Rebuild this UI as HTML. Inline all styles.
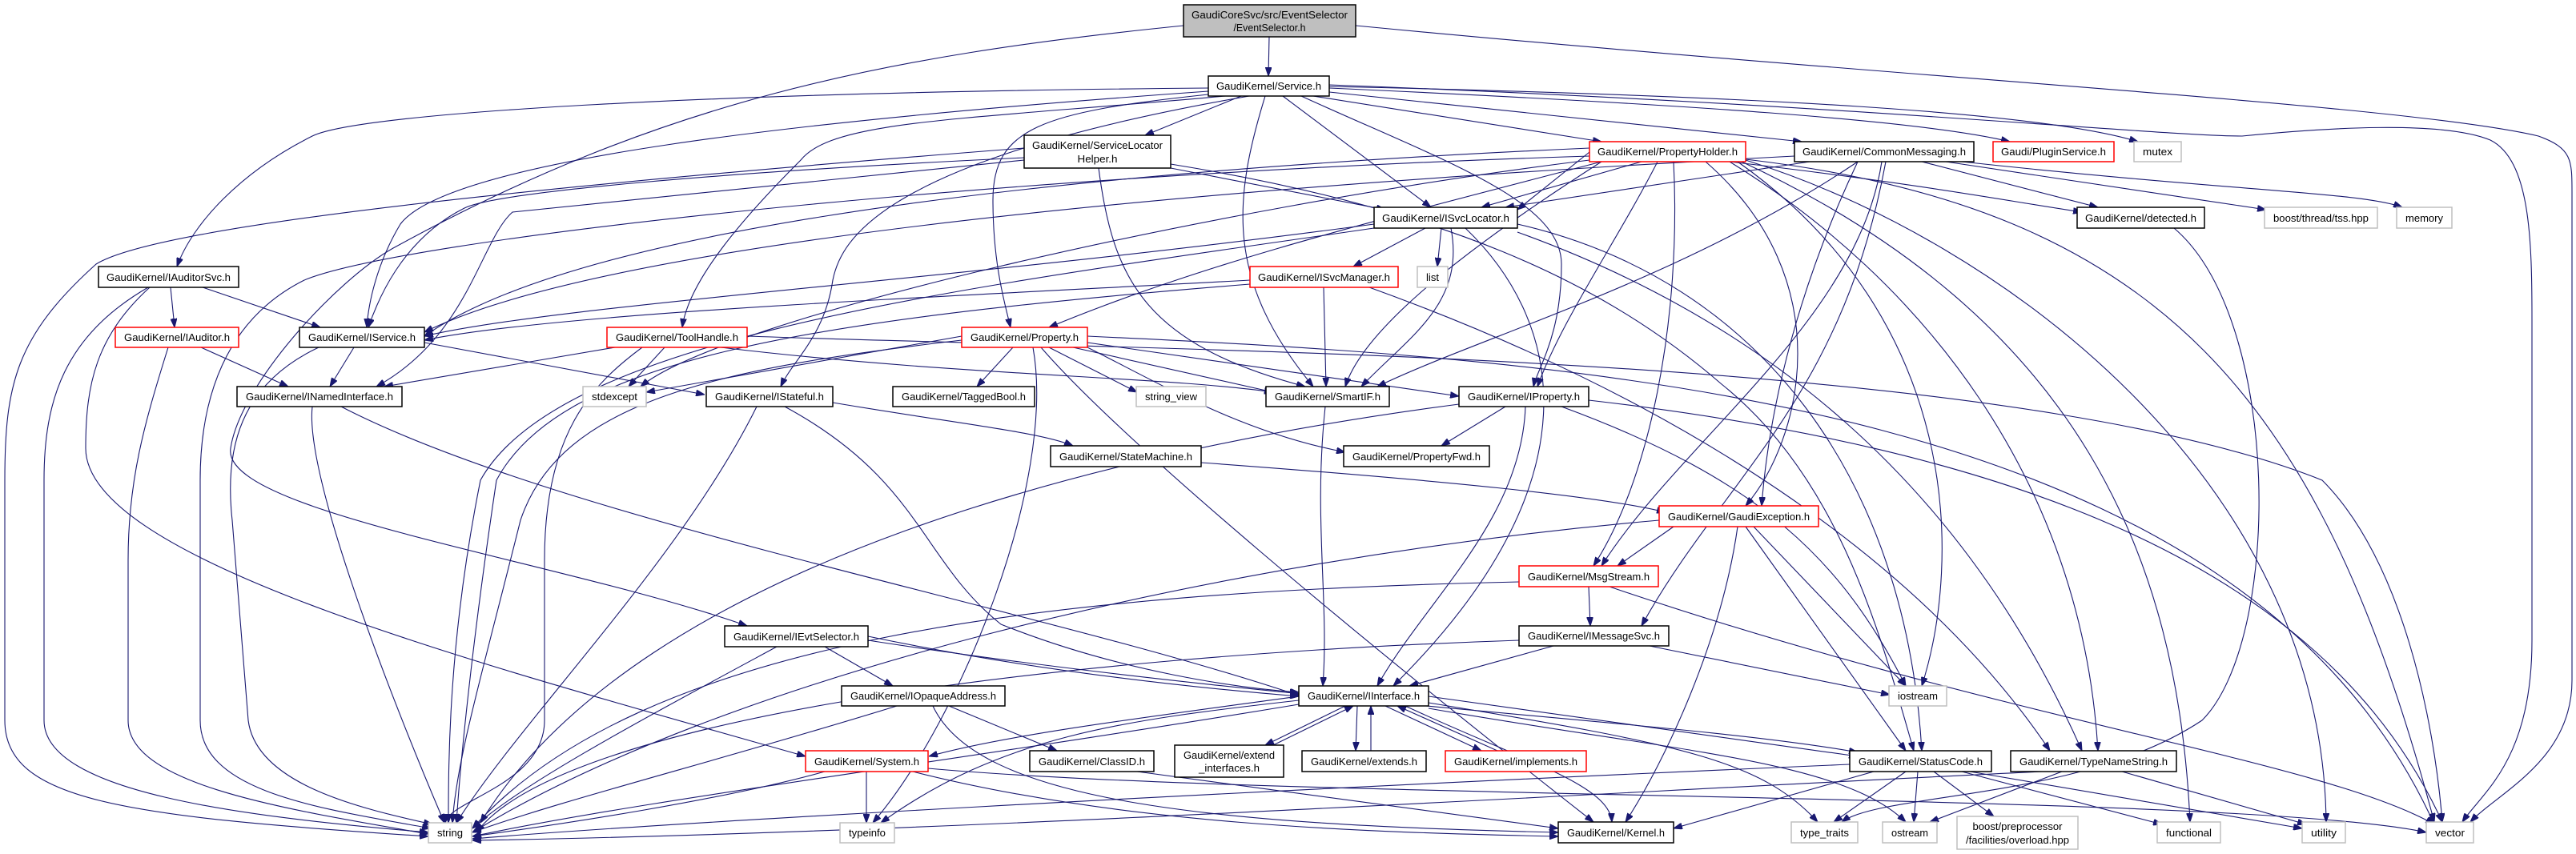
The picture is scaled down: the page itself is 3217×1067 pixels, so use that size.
<!DOCTYPE html>
<html><head><meta charset="utf-8"><style>
html,body{margin:0;padding:0;background:#fff;}
svg{display:block;}
text{font-family:"Liberation Sans",sans-serif;font-size:13px;fill:#000;}
.n{fill:#fff;stroke:#000;stroke-width:1.5;}
.r{fill:#fff;stroke:#ff0000;stroke-width:1.5;}
.g{fill:#fff;stroke:#bfbfbf;stroke-width:1.5;}
.e path{fill:none;stroke:#191970;stroke-width:1.1;}
</style></head><body>
<svg width="3217" height="1067" viewBox="0 0 3217 1067" xmlns="http://www.w3.org/2000/svg">
<defs><marker id="a" markerWidth="11" markerHeight="8" refX="11" refY="4" orient="auto" markerUnits="userSpaceOnUse"><path d="M0,0 L11,4 L0,8 z" fill="#191970" stroke="#191970"/></marker></defs>
<g class="e" marker-end="url(#a)">
<path d="M1585,46 L1584,95" marker-end="url(#a)"/>
<path d="M1478,32 C1100,70 824,127 491,310 C420,350 300,480 288,560 C275,640 700,700 933,782" marker-end="url(#a)"/>
<path d="M1693,32 C2400,100 3000,130 3170,170 C3212,185 3212,200 3212,240 L3212,850 C3212,950 3120,990 3085,1027" marker-end="url(#a)"/>
<path d="M1509,110 C900,115 450,140 390,170 C300,215 240,280 221,333" marker-end="url(#a)"/>
<path d="M1509,114 C1000,150 560,200 500,280 C470,330 460,380 458,409" marker-end="url(#a)"/>
<path d="M1530,120 C1200,150 1040,150 1000,200 C930,270 860,350 852,409" marker-end="url(#a)"/>
<path d="M1560,120 C1100,200 1050,300 1040,350 C1030,420 990,450 975,483" marker-end="url(#a)"/>
<path d="M1550,120 L1430,169" marker-end="url(#a)"/>
<path d="M1509,118 C1300,140 1240,160 1240,250 C1240,330 1255,380 1262,409" marker-end="url(#a)"/>
<path d="M1580,120 C1540,250 1530,350 1640,483" marker-end="url(#a)"/>
<path d="M1602,120 L1787,259" marker-end="url(#a)"/>
<path d="M1625,120 C1800,200 1950,250 1950,330 C1950,420 1920,460 1915,483" marker-end="url(#a)"/>
<path d="M1640,120 L2000,177" marker-end="url(#a)"/>
<path d="M1660,115 L2250,177" marker-end="url(#a)"/>
<path d="M1660,110 C2100,130 2400,150 2510,177" marker-end="url(#a)"/>
<path d="M1660,108 C2200,120 2550,140 2670,177" marker-end="url(#a)"/>
<path d="M1660,106 C2300,130 2700,170 2800,170 C2900,160 3050,150 3110,175 C3160,200 3162,300 3162,400 L3162,800 C3162,950 3100,990 3075,1027" marker-end="url(#a)"/>
<path d="M213,359 L218,409" marker-end="url(#a)"/>
<path d="M253,359 L400,409" marker-end="url(#a)"/>
<path d="M185,359 C80,420 55,500 55,600 L55,900 C55,990 300,1020 535,1040" marker-end="url(#a)"/>
<path d="M187,359 C120,420 107,480 107,560 C107,700 600,830 1006,945" marker-end="url(#a)"/>
<path d="M251,434 L360,483" marker-end="url(#a)"/>
<path d="M210,434 C180,530 160,600 160,700 L160,900 C160,980 350,1010 535,1042" marker-end="url(#a)"/>
<path d="M442,434 L412,483" marker-end="url(#a)"/>
<path d="M530,428 L880,493" marker-end="url(#a)"/>
<path d="M398,434 C300,480 280,560 290,650 L310,900 C320,980 450,1010 540,1030" marker-end="url(#a)"/>
<path d="M768,434 L480,483" marker-end="url(#a)"/>
<path d="M830,434 L785,483" marker-end="url(#a)"/>
<path d="M802,434 C740,480 680,540 680,700 L680,900 C680,980 560,1000 556,1028" marker-end="url(#a)"/>
<path d="M933,420 C1500,440 2500,440 2900,600 C3000,700 3040,900 3050,1027" marker-end="url(#a)"/>
<path d="M900,434 C1200,470 1450,470 1590,490" marker-end="url(#a)"/>
<path d="M426,508 C700,650 1300,760 1625,870" marker-end="url(#a)"/>
<path d="M390,508 C380,600 500,900 555,1028" marker-end="url(#a)"/>
<path d="M1040,503 C1200,530 1300,540 1340,557" marker-end="url(#a)"/>
<path d="M980,508 C1150,600 1150,700 1250,780 C1400,840 1550,860 1622,865" marker-end="url(#a)"/>
<path d="M945,508 C850,700 650,900 570,1028" marker-end="url(#a)"/>
<path d="M1462,210 L1730,262" marker-end="url(#a)"/>
<path d="M1372,210 C1390,350 1430,430 1630,483" marker-end="url(#a)"/>
<path d="M1279,197 C900,215 620,240 580,260 C500,300 470,380 460,409" marker-end="url(#a)"/>
<path d="M1279,200 C900,240 700,260 640,265 C600,300 585,420 470,483" marker-end="url(#a)"/>
<path d="M1462,205 C1800,260 2000,350 2150,480 C2300,600 2350,800 2390,938" marker-end="url(#a)"/>
<path d="M1279,185 C700,230 200,280 120,330 C20,420 6,480 6,600 L6,900 C6,1000 150,1020 535,1045" marker-end="url(#a)"/>
<path d="M2050,202 L1850,259" marker-end="url(#a)"/>
<path d="M1985,190 L1895,262" marker-end="url(#a)"/>
<path d="M2070,202 C2020,300 1950,400 1920,483" marker-end="url(#a)"/>
<path d="M2000,202 C1700,280 1500,330 1310,409" marker-end="url(#a)"/>
<path d="M2090,202 C2100,400 2060,600 1990,707" marker-end="url(#a)"/>
<path d="M2130,202 C2300,350 2250,550 2180,632" marker-end="url(#a)"/>
<path d="M2160,202 C2400,230 2500,250 2600,265" marker-end="url(#a)"/>
<path d="M2170,202 C2450,400 2450,700 2400,857" marker-end="url(#a)"/>
<path d="M2175,202 C2600,400 2720,700 2735,1027" marker-end="url(#a)"/>
<path d="M2180,200 C2500,300 2900,600 2905,1027" marker-end="url(#a)"/>
<path d="M2180,199 C2700,260 2900,500 3040,1027" marker-end="url(#a)"/>
<path d="M2160,202 C2400,350 2600,600 2620,938" marker-end="url(#a)"/>
<path d="M1985,195 C1200,220 500,300 380,350 C280,400 250,500 250,600 L250,900 C250,990 400,1010 538,1035" marker-end="url(#a)"/>
<path d="M1985,200 C1500,260 900,400 800,483" marker-end="url(#a)"/>
<path d="M1985,185 C1200,220 700,300 530,420" marker-end="url(#a)"/>
<path d="M2000,202 C1800,330 1700,420 1680,483" marker-end="url(#a)"/>
<path d="M2260,202 L1880,259" marker-end="url(#a)"/>
<path d="M2320,202 C2100,350 1850,420 1720,483" marker-end="url(#a)"/>
<path d="M2350,202 C2320,400 2100,550 2000,707" marker-end="url(#a)"/>
<path d="M2355,202 C2300,500 2150,600 2050,782" marker-end="url(#a)"/>
<path d="M2400,202 L2620,259" marker-end="url(#a)"/>
<path d="M2430,202 L2830,262" marker-end="url(#a)"/>
<path d="M2450,202 C2800,240 2950,240 3000,259" marker-end="url(#a)"/>
<path d="M2320,202 C2250,350 2210,500 2200,632" marker-end="url(#a)"/>
<path d="M2241,195 C1200,250 700,330 530,415" marker-end="url(#a)"/>
<path d="M1780,285 L1690,333" marker-end="url(#a)"/>
<path d="M1800,285 L1795,333" marker-end="url(#a)"/>
<path d="M1812,285 C1830,380 1760,420 1700,483" marker-end="url(#a)"/>
<path d="M1830,285 C1950,400 2000,600 1740,857" marker-end="url(#a)"/>
<path d="M1895,280 C2200,350 2380,600 2400,938" marker-end="url(#a)"/>
<path d="M1895,290 C2200,400 2450,600 2600,938" marker-end="url(#a)"/>
<path d="M1716,280 C1200,350 700,380 530,420" marker-end="url(#a)"/>
<path d="M1716,285 C1200,360 700,420 600,600 C560,800 560,950 560,1028" marker-end="url(#a)"/>
<path d="M1561,350 C1200,370 700,390 530,425" marker-end="url(#a)"/>
<path d="M1653,359 L1656,483" marker-end="url(#a)"/>
<path d="M1710,359 C2100,500 2400,700 2560,938" marker-end="url(#a)"/>
<path d="M1561,355 C1000,400 700,450 620,600 C590,800 575,950 570,1028" marker-end="url(#a)"/>
<path d="M1265,434 L1220,483" marker-end="url(#a)"/>
<path d="M1310,434 L1420,490" marker-end="url(#a)"/>
<path d="M1340,434 L1590,490" marker-end="url(#a)"/>
<path d="M1358,428 L1822,495" marker-end="url(#a)"/>
<path d="M1358,434 C1450,480 1550,540 1680,565" marker-end="url(#a)"/>
<path d="M1201,420 L807,490" marker-end="url(#a)"/>
<path d="M1201,425 C900,460 700,500 650,650 C600,850 570,950 565,1028" marker-end="url(#a)"/>
<path d="M1290,434 C1320,600 1200,900 1090,1028" marker-end="url(#a)"/>
<path d="M1300,434 C1400,550 1700,800 1990,1027" marker-end="url(#a)"/>
<path d="M1358,420 C2000,450 2800,500 3040,1030" marker-end="url(#a)"/>
<path d="M1655,508 C1640,650 1660,750 1652,857" marker-end="url(#a)"/>
<path d="M1880,508 L1800,557" marker-end="url(#a)"/>
<path d="M1905,508 C1900,650 1780,750 1720,857" marker-end="url(#a)"/>
<path d="M1822,505 C1400,560 800,700 600,1028" marker-end="url(#a)"/>
<path d="M1950,508 C2200,600 2300,700 2380,857" marker-end="url(#a)"/>
<path d="M1984,500 C2500,560 2900,700 3050,1027" marker-end="url(#a)"/>
<path d="M1500,578 C1800,600 2000,620 2080,640" marker-end="url(#a)"/>
<path d="M2090,658 L2020,707" marker-end="url(#a)"/>
<path d="M2072,650 C1500,700 900,850 590,1040" marker-end="url(#a)"/>
<path d="M2170,658 C2150,800 2080,950 2030,1027" marker-end="url(#a)"/>
<path d="M2180,658 L2380,938" marker-end="url(#a)"/>
<path d="M2190,658 L2380,857" marker-end="url(#a)"/>
<path d="M1984,733 L1986,782" marker-end="url(#a)"/>
<path d="M1897,727 C1300,740 800,800 590,1035" marker-end="url(#a)"/>
<path d="M2010,733 C2500,900 2900,950 3040,1030" marker-end="url(#a)"/>
<path d="M1940,807 L1760,857" marker-end="url(#a)"/>
<path d="M1897,800 C1300,820 700,900 595,1040" marker-end="url(#a)"/>
<path d="M2060,807 L2360,868" marker-end="url(#a)"/>
<path d="M1030,808 L1115,857" marker-end="url(#a)"/>
<path d="M1084,795 C1300,840 1500,860 1622,870" marker-end="url(#a)"/>
<path d="M1084,800 C1600,880 2100,900 2320,940" marker-end="url(#a)"/>
<path d="M970,808 C800,900 650,980 590,1035" marker-end="url(#a)"/>
<path d="M1185,882 L1320,938" marker-end="url(#a)"/>
<path d="M1120,882 C900,950 700,1000 590,1040" marker-end="url(#a)"/>
<path d="M1165,882 C1220,1000 1500,1030 1946,1040" marker-end="url(#a)"/>
<path d="M1622,870 C1400,900 1250,920 1160,945" marker-end="url(#a)"/>
<path d="M1622,875 C1400,900 1250,920 1100,1028" marker-end="url(#a)"/>
<path d="M1680,882 L1580,931" marker-end="url(#a)"/>
<path d="M1590,931 L1690,882" marker-end="url(#a)"/>
<path d="M1695,882 L1693,938" marker-end="url(#a)"/>
<path d="M1712,938 L1712,882" marker-end="url(#a)"/>
<path d="M1730,882 L1850,938" marker-end="url(#a)"/>
<path d="M1870,938 L1745,882" marker-end="url(#a)"/>
<path d="M1755,882 C1900,950 2010,980 2013,1027" marker-end="url(#a)"/>
<path d="M1784,870 L2320,945" marker-end="url(#a)"/>
<path d="M1784,878 C2100,930 2200,950 2270,1027" marker-end="url(#a)"/>
<path d="M1784,885 C2100,940 2300,950 2380,1027" marker-end="url(#a)"/>
<path d="M1622,880 C1200,950 800,1000 590,1045" marker-end="url(#a)"/>
<path d="M1082,964 L1082,1028" marker-end="url(#a)"/>
<path d="M1030,964 C900,1000 700,1030 590,1045" marker-end="url(#a)"/>
<path d="M1140,964 C1400,1030 1700,1040 1946,1045" marker-end="url(#a)"/>
<path d="M1159,960 C1600,1000 2800,990 3030,1040" marker-end="url(#a)"/>
<path d="M1420,964 L1946,1035" marker-end="url(#a)"/>
<path d="M2340,964 L2090,1035" marker-end="url(#a)"/>
<path d="M2380,964 L2290,1027" marker-end="url(#a)"/>
<path d="M2395,964 L2390,1027" marker-end="url(#a)"/>
<path d="M2415,964 L2490,1020" marker-end="url(#a)"/>
<path d="M2450,964 L2700,1030" marker-end="url(#a)"/>
<path d="M2460,964 L2875,1035" marker-end="url(#a)"/>
<path d="M2310,955 C1500,990 800,1030 590,1048" marker-end="url(#a)"/>
<path d="M2550,964 C2000,990 1200,1040 590,1050" marker-end="url(#a)"/>
<path d="M2575,964 L2410,1027" marker-end="url(#a)"/>
<path d="M2650,964 L2880,1030" marker-end="url(#a)"/>
<path d="M2715,285 C2850,400 2850,800 2750,900 C2600,1000 2350,990 2300,1027" marker-end="url(#a)"/>
</g>
<g>
<rect x="1478" y="6" width="215" height="40" fill="#bfbfbf" stroke="#000" stroke-width="1.5"/>
<text x="1585.5" y="23" text-anchor="middle" textLength="195" lengthAdjust="spacingAndGlyphs">GaudiCoreSvc/src/EventSelector</text>
<text x="1585.5" y="39" text-anchor="middle" textLength="90" lengthAdjust="spacingAndGlyphs">/EventSelector.h</text>

<rect class="n" x="1509" y="95" width="151" height="25"/><text x="1584.5" y="112" text-anchor="middle" textLength="131" lengthAdjust="spacingAndGlyphs">GaudiKernel/Service.h</text>
<rect class="n" x="1279" y="169" width="183" height="41"/><text x="1370.5" y="186" text-anchor="middle" textLength="163" lengthAdjust="spacingAndGlyphs">GaudiKernel/ServiceLocator</text><text x="1370.5" y="203" text-anchor="middle" textLength="50" lengthAdjust="spacingAndGlyphs">Helper.h</text>
<rect class="r" x="1985" y="177" width="195" height="25"/><text x="2082.5" y="194" text-anchor="middle" textLength="175" lengthAdjust="spacingAndGlyphs">GaudiKernel/PropertyHolder.h</text>
<rect class="n" x="2241" y="177" width="224" height="25"/><text x="2353" y="194" text-anchor="middle" textLength="204" lengthAdjust="spacingAndGlyphs">GaudiKernel/CommonMessaging.h</text>
<rect class="r" x="2489" y="177" width="151" height="25"/><text x="2564.5" y="194" text-anchor="middle" textLength="131" lengthAdjust="spacingAndGlyphs">Gaudi/PluginService.h</text>
<rect class="g" x="2665" y="177" width="59" height="25"/><text x="2694.5" y="194" text-anchor="middle" textLength="37" lengthAdjust="spacingAndGlyphs">mutex</text>
<rect class="n" x="123" y="333" width="175" height="26"/><text x="210.5" y="351" text-anchor="middle" textLength="155" lengthAdjust="spacingAndGlyphs">GaudiKernel/IAuditorSvc.h</text>
<rect class="n" x="1716" y="259" width="179" height="26"/><text x="1805.5" y="277" text-anchor="middle" textLength="159" lengthAdjust="spacingAndGlyphs">GaudiKernel/ISvcLocator.h</text>
<rect class="n" x="2594" y="259" width="159" height="26"/><text x="2673.5" y="277" text-anchor="middle" textLength="139" lengthAdjust="spacingAndGlyphs">GaudiKernel/detected.h</text>
<rect class="g" x="2828" y="259" width="141" height="26"/><text x="2898.5" y="277" text-anchor="middle" textLength="119" lengthAdjust="spacingAndGlyphs">boost/thread/tss.hpp</text>
<rect class="g" x="2993" y="259" width="69" height="26"/><text x="3027.5" y="277" text-anchor="middle" textLength="47" lengthAdjust="spacingAndGlyphs">memory</text>
<rect class="r" x="1561" y="333" width="185" height="26"/><text x="1653.5" y="351" text-anchor="middle" textLength="165" lengthAdjust="spacingAndGlyphs">GaudiKernel/ISvcManager.h</text>
<rect class="g" x="1770" y="333" width="38" height="26"/><text x="1789" y="351" text-anchor="middle" textLength="16" lengthAdjust="spacingAndGlyphs">list</text>
<rect class="r" x="144" y="409" width="154" height="25"/><text x="221" y="426" text-anchor="middle" textLength="132" lengthAdjust="spacingAndGlyphs">GaudiKernel/IAuditor.h</text>
<rect class="n" x="374" y="409" width="156" height="25"/><text x="452" y="426" text-anchor="middle" textLength="134" lengthAdjust="spacingAndGlyphs">GaudiKernel/IService.h</text>
<rect class="r" x="758" y="409" width="175" height="25"/><text x="845.5" y="426" text-anchor="middle" textLength="153" lengthAdjust="spacingAndGlyphs">GaudiKernel/ToolHandle.h</text>
<rect class="r" x="1201" y="409" width="157" height="25"/><text x="1279.5" y="426" text-anchor="middle" textLength="135" lengthAdjust="spacingAndGlyphs">GaudiKernel/Property.h</text>
<rect class="n" x="296" y="483" width="206" height="25"/><text x="399" y="500" text-anchor="middle" textLength="184" lengthAdjust="spacingAndGlyphs">GaudiKernel/INamedInterface.h</text>
<rect class="g" x="728" y="483" width="79" height="25"/><text x="767.5" y="500" text-anchor="middle" textLength="57" lengthAdjust="spacingAndGlyphs">stdexcept</text>
<rect class="n" x="882" y="483" width="158" height="25"/><text x="961" y="500" text-anchor="middle" textLength="136" lengthAdjust="spacingAndGlyphs">GaudiKernel/IStateful.h</text>
<rect class="n" x="1115" y="483" width="177" height="25"/><text x="1203.5" y="500" text-anchor="middle" textLength="155" lengthAdjust="spacingAndGlyphs">GaudiKernel/TaggedBool.h</text>
<rect class="g" x="1419" y="483" width="87" height="25"/><text x="1462.5" y="500" text-anchor="middle" textLength="65" lengthAdjust="spacingAndGlyphs">string_view</text>
<rect class="n" x="1581" y="483" width="154" height="25"/><text x="1658" y="500" text-anchor="middle" textLength="132" lengthAdjust="spacingAndGlyphs">GaudiKernel/SmartIF.h</text>
<rect class="n" x="1822" y="483" width="162" height="25"/><text x="1903" y="500" text-anchor="middle" textLength="140" lengthAdjust="spacingAndGlyphs">GaudiKernel/IProperty.h</text>
<rect class="n" x="1312" y="557" width="188" height="26"/><text x="1406" y="575" text-anchor="middle" textLength="166" lengthAdjust="spacingAndGlyphs">GaudiKernel/StateMachine.h</text>
<rect class="n" x="1678" y="557" width="182" height="26"/><text x="1769" y="575" text-anchor="middle" textLength="160" lengthAdjust="spacingAndGlyphs">GaudiKernel/PropertyFwd.h</text>
<rect class="r" x="2072" y="632" width="199" height="26"/><text x="2171.5" y="650" text-anchor="middle" textLength="177" lengthAdjust="spacingAndGlyphs">GaudiKernel/GaudiException.h</text>
<rect class="r" x="1897" y="707" width="174" height="26"/><text x="1984" y="725" text-anchor="middle" textLength="152" lengthAdjust="spacingAndGlyphs">GaudiKernel/MsgStream.h</text>
<rect class="n" x="1897" y="782" width="187" height="25"/><text x="1990.5" y="799" text-anchor="middle" textLength="165" lengthAdjust="spacingAndGlyphs">GaudiKernel/IMessageSvc.h</text>
<rect class="n" x="905" y="782" width="179" height="26"/><text x="994.5" y="800" text-anchor="middle" textLength="157" lengthAdjust="spacingAndGlyphs">GaudiKernel/IEvtSelector.h</text>
<rect class="n" x="1051" y="857" width="204" height="25"/><text x="1153" y="874" text-anchor="middle" textLength="182" lengthAdjust="spacingAndGlyphs">GaudiKernel/IOpaqueAddress.h</text>
<rect class="n" x="1622" y="857" width="162" height="25"/><text x="1703" y="874" text-anchor="middle" textLength="140" lengthAdjust="spacingAndGlyphs">GaudiKernel/IInterface.h</text>
<rect class="g" x="2359" y="857" width="72" height="25"/><text x="2395" y="874" text-anchor="middle" textLength="50" lengthAdjust="spacingAndGlyphs">iostream</text>
<rect class="r" x="1006" y="938" width="153" height="26"/><text x="1082.5" y="956" text-anchor="middle" textLength="131" lengthAdjust="spacingAndGlyphs">GaudiKernel/System.h</text>
<rect class="n" x="1286" y="938" width="155" height="26"/><text x="1363.5" y="956" text-anchor="middle" textLength="133" lengthAdjust="spacingAndGlyphs">GaudiKernel/ClassID.h</text>
<rect class="n" x="1467" y="931" width="136" height="40"/><text x="1535" y="948" text-anchor="middle" textLength="114" lengthAdjust="spacingAndGlyphs">GaudiKernel/extend</text><text x="1535" y="964" text-anchor="middle" textLength="76" lengthAdjust="spacingAndGlyphs">_interfaces.h</text>
<rect class="n" x="1626" y="938" width="155" height="26"/><text x="1703.5" y="956" text-anchor="middle" textLength="133" lengthAdjust="spacingAndGlyphs">GaudiKernel/extends.h</text>
<rect class="r" x="1805" y="938" width="176" height="26"/><text x="1893" y="956" text-anchor="middle" textLength="154" lengthAdjust="spacingAndGlyphs">GaudiKernel/implements.h</text>
<rect class="n" x="2310" y="938" width="177" height="26"/><text x="2398.5" y="956" text-anchor="middle" textLength="155" lengthAdjust="spacingAndGlyphs">GaudiKernel/StatusCode.h</text>
<rect class="n" x="2511" y="938" width="207" height="26"/><text x="2614.5" y="956" text-anchor="middle" textLength="185" lengthAdjust="spacingAndGlyphs">GaudiKernel/TypeNameString.h</text>
<rect class="g" x="535" y="1028" width="54" height="25"/><text x="562" y="1045" text-anchor="middle" textLength="32" lengthAdjust="spacingAndGlyphs">string</text>
<rect class="g" x="1049" y="1028" width="68" height="25"/><text x="1083" y="1045" text-anchor="middle" textLength="46" lengthAdjust="spacingAndGlyphs">typeinfo</text>
<rect class="n" x="1946" y="1027" width="144" height="26"/><text x="2018" y="1045" text-anchor="middle" textLength="122" lengthAdjust="spacingAndGlyphs">GaudiKernel/Kernel.h</text>
<rect class="g" x="2237" y="1027" width="83" height="26"/><text x="2278.5" y="1045" text-anchor="middle" textLength="61" lengthAdjust="spacingAndGlyphs">type_traits</text>
<rect class="g" x="2351" y="1027" width="68" height="26"/><text x="2385" y="1045" text-anchor="middle" textLength="46" lengthAdjust="spacingAndGlyphs">ostream</text>
<rect class="g" x="2444" y="1020" width="151" height="41"/><text x="2519.5" y="1037" text-anchor="middle" textLength="112" lengthAdjust="spacingAndGlyphs">boost/preprocessor</text><text x="2519.5" y="1054" text-anchor="middle" textLength="129" lengthAdjust="spacingAndGlyphs">/facilities/overload.hpp</text>
<rect class="g" x="2694" y="1027" width="79" height="26"/><text x="2733.5" y="1045" text-anchor="middle" textLength="57" lengthAdjust="spacingAndGlyphs">functional</text>
<rect class="g" x="2875" y="1027" width="54" height="26"/><text x="2902" y="1045" text-anchor="middle" textLength="32" lengthAdjust="spacingAndGlyphs">utility</text>
<rect class="g" x="3030" y="1027" width="59" height="26"/><text x="3059.5" y="1045" text-anchor="middle" textLength="37" lengthAdjust="spacingAndGlyphs">vector</text>
</g>
</svg>
</body></html>
